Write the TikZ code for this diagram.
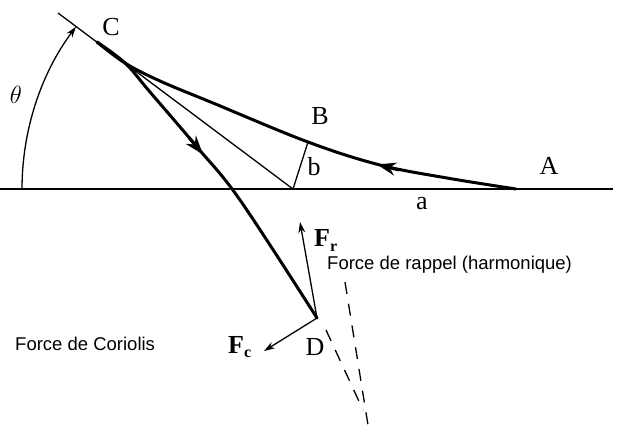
\documentclass[tikz,border=0pt]{standalone}
\usepackage{fontspec}
\setmainfont{Liberation Serif}
\newfontfamily\sansf{Liberation Sans}
\usetikzlibrary{arrows.meta}
\begin{document}
\begin{tikzpicture}[x=1pt,y=-1pt,
  boldline/.style={line width=3pt, line cap=round, line join=round},
  thinline/.style={line width=1.3pt},
  lab/.style={font=\fontsize{26}{26}\selectfont, inner sep=0pt},
  slab/.style={font=\sansf\fontsize{18.5}{18.5}\selectfont, inner sep=0pt, anchor=base west},
  bigarrow/.style={-{Stealth[length=19pt,width=13pt]}, line width=3pt},
  farrow/.style={-{Stealth[length=11pt,width=7pt]}, line width=1.3pt},
  dashline/.style={line width=1.3pt, dash pattern=on 12pt off 10pt}]
\useasboundingbox (0,0) rectangle (629,440);
\fill[white] (0,0) rectangle (629,440);
% key points
\coordinate (L) at (0,189);
\coordinate (R) at (613,189);
\coordinate (T) at (58,13);
\coordinate (O) at (293,189);
\coordinate (C) at (97,42);
\coordinate (A) at (516,189);
\coordinate (Bp) at (308,142);
\coordinate (D) at (317,318);
\coordinate (Frt) at (300,222);
\coordinate (Fct) at (264,351);
% lines
\draw[thinline] (L) -- (R);
\draw[thinline] (T) -- (O);
\draw[thinline] (O) -- (Bp);
% trajectories
\draw[boldline] plot[smooth, tension=0.6] coordinates {(A) (447,178) (380,165) (308,142) (213,103) (160,81) (125,63) (C)};
\draw[boldline] plot[smooth, tension=0.6] coordinates {(C) (125,63) (150,92) (197,147) (240,200) (D)};
\coordinate (a1s) at (399,170);
\coordinate (a1e) at (377,164.4);
\draw[bigarrow] (a1s) -- (a1e);
\coordinate (a2s) at (189,137.5);
\coordinate (a2e) at (203,154.4);
\draw[bigarrow] (a2s) -- (a2e);
% angle theta
\draw[thinline, -{Stealth[length=11pt,width=7pt]}] (O) ++(180:271) arc[start angle=180, end angle=216.8, radius=271];
% forces
\draw[farrow] (D) -- (Frt);
\draw[farrow] (D) -- (Fct);
\draw[dashline] (345,282) -- (368,425);
\draw[dashline] (326,330) -- (363,410);
% labels
\node[lab] (lC) at (111,27) {C};
\node[lab] (lB) at (320,116) {B};
\node[lab] (lA) at (549,166) {A};
\node[lab] (la) at (422,204) {a};
\node[lab] (lb) at (314,167) {b};
\node[lab] (lth) at (16,95) {$\theta$};
\node[lab] (lD) at (315,347) {D};
\node[lab, anchor=base west] (lFr) at (314,246) {\bfseries F\raisebox{-5pt}{\fontsize{16}{16}\selectfont r}};
\node[lab, anchor=base west] (lFc) at (228,353) {\bfseries F\raisebox{-4pt}{\fontsize{16}{16}\selectfont c}};
\node[slab] (tr) at (327,269) {Force de rappel (harmonique)};
\node[slab] (tc) at (15,350) {Force de Coriolis};
\end{tikzpicture}
\end{document}
